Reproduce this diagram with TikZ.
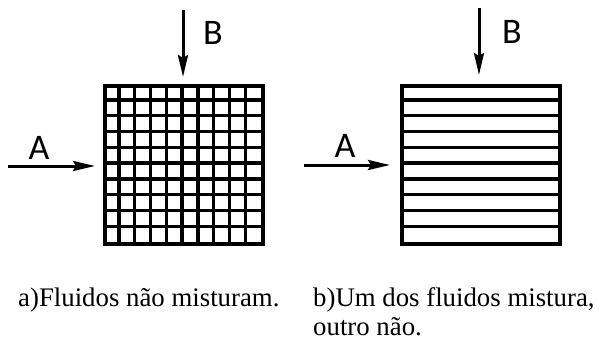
\documentclass[tikz,border=0pt]{standalone}
\usepackage{fontspec}
\setmainfont{Liberation Serif}
\newfontfamily\flowfont{Carlito}
\usetikzlibrary{arrows.meta}
\tikzset{
  box/.style={draw,line width=4pt,minimum size=158pt,inner sep=0pt},
  cell/.style={line width=3.4pt},
  flow/.style={line width=3pt,-{Stealth[length=22pt,width=10pt,inset=3pt]}},
  flowlabel/.style={font=\flowfont\fontsize{36}{36}\selectfont,inner sep=0pt},
  caption/.style={font=\fontsize{26.8}{29}\selectfont,inner sep=0pt,align=left}
}
\begin{document}
\begin{tikzpicture}[x=1pt,y=-1pt]
\useasboundingbox (0,0) rectangle (600,345);
% a) both fluids unmixed
\node[box] (gridA) at (184,165) {};
\foreach \k in {1,...,9} {
  \draw[cell] (gridA.north west) ++(15.8*\k,0) -- ++(0,158);
  \draw[cell] (gridA.north west) ++(0,15.8*\k) -- ++(158,0);
}
\coordinate (inBa) at (183,10);
\coordinate (inAa) at (8,166);
\draw[flow,shorten >=7pt] (inBa) -- (inBa |- gridA.north);
\draw[flow,shorten >=8pt] (inAa) -- (inAa -| gridA.west);
\node[flowlabel] (labBa) at (213,33) {B};
\node[flowlabel] (labAa) at (39,148) {A};
% b) one fluid mixed, the other not
\node[box] (stripB) at (481,165) {};
\foreach \k in {1,...,9}
  \draw[cell] (stripB.north west) ++(0,15.8*\k) -- ++(158,0);
\coordinate (inBb) at (479,8);
\coordinate (inAb) at (304,165);
\draw[flow,shorten >=9pt] (inBb) -- (inBb |- stripB.north);
\draw[flow,shorten >=10pt] (inAb) -- (inAb -| stripB.west);
\node[flowlabel] (labBb) at (512,32) {B};
\node[flowlabel] (labAb) at (345,146) {A};
% captions
\node[caption,anchor=base west] (capA) at (18,306) {a)Fluidos não misturam.};
\node[caption,anchor=base west] (capB) at (313,335) {b)Um dos fluidos mistura,\\outro não.};
\end{tikzpicture}
\end{document}
